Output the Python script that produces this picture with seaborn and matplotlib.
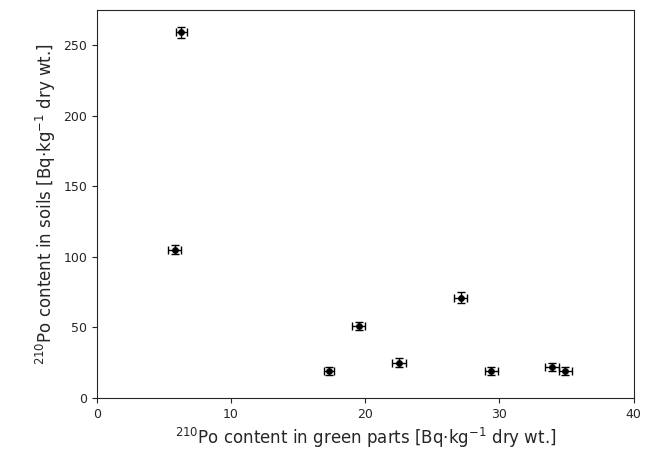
import matplotlib
matplotlib.use("Agg")
import matplotlib.pyplot as plt
import seaborn as sns

green = [6.3, 5.8, 17.3, 19.5, 22.5, 27.1, 29.4, 33.9, 34.9]
soil = [259, 105, 19, 51, 25, 71, 19, 22, 19]
green_err = [0.4, 0.5, 0.4, 0.5, 0.5, 0.5, 0.5, 0.5, 0.5]
soil_err = [4, 3, 3, 3, 3, 4, 3, 3, 3]

sns.set_style("ticks")
plt.rcParams['font.family'] = ['DejaVu Sans']
fig, ax = plt.subplots(figsize=(6.54, 4.73), dpi=100)
fig.subplots_adjust(left=0.148, right=0.969, top=0.979, bottom=0.159)

ax.errorbar(green, soil, xerr=green_err, yerr=soil_err, fmt='none', ecolor='black',
            elinewidth=1, capsize=3, zorder=1)
sns.scatterplot(x=green, y=soil, color='black', s=20, ax=ax, zorder=2, edgecolor='black')

ax.set_xlim(0, 40)
ax.set_ylim(0, 275)
ax.set_xticks([0, 10, 20, 30, 40])
ax.set_yticks([0, 50, 100, 150, 200, 250])
ax.tick_params(labelsize=9, direction='out')
for s in ax.spines.values():
    s.set_linewidth(0.8)
    s.set_visible(True)
ax.set_xlabel(r'$^{210}$Po content in green parts [Bq$\cdot$kg$^{-1}$ dry wt.]', fontsize=12)
ax.set_ylabel(r'$^{210}$Po content in soils [Bq$\cdot$kg$^{-1}$ dry wt.]', fontsize=12)
fig.savefig('out.png', dpi=100)
